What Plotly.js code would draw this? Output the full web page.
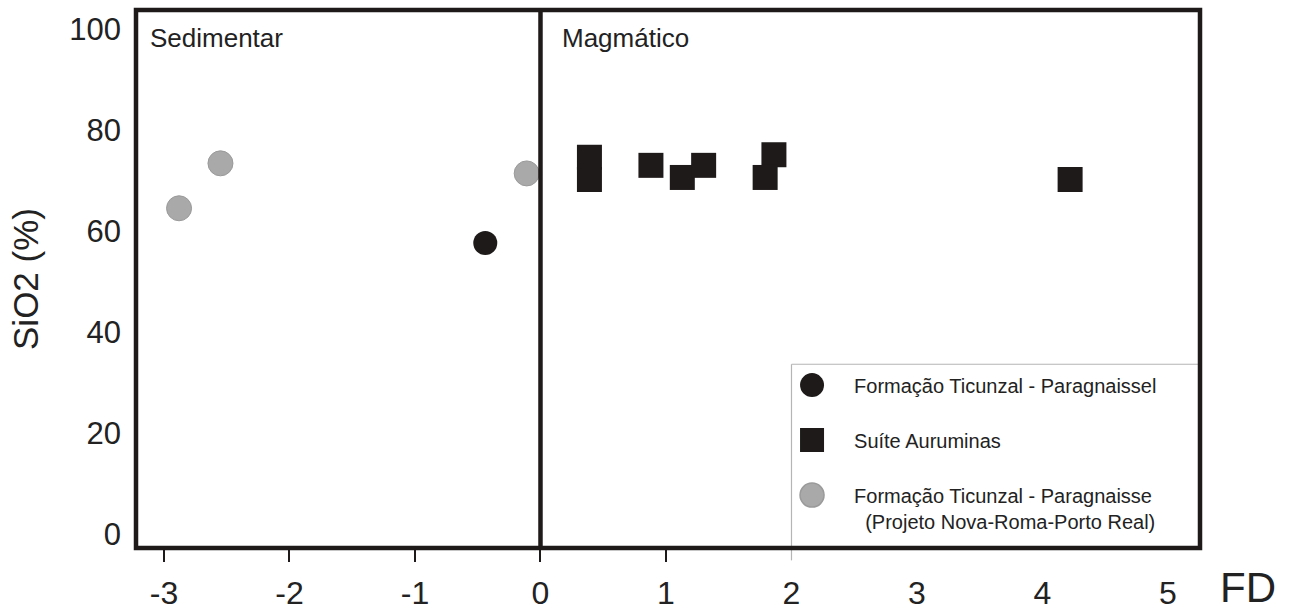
<!DOCTYPE html>
<html>
<head>
<meta charset="utf-8">
<script src="https://cdn.plot.ly/plotly-3.0.1.min.js"></script>
<style>
  html, body { margin: 0; padding: 0; background: #fff; }
  #chart { width: 1290px; height: 612px; }
</style>
</head>
<body>
<div id="chart"></div>
<script>
// FD discriminant values (x) and SiO2 contents (y, %)
const paragnaisselFD   = [-0.44];
const paragnaisselSiO2 = [57.7];

const auruminasFD   = [0.39, 0.39, 0.88, 1.13, 1.30, 1.86, 1.79, 4.22];
const auruminasSiO2 = [74.7, 70.3, 73.1, 70.7, 73.1, 75.2, 70.7, 70.3];

const nrprFD   = [-2.55, -2.88, -0.11];
const nrprSiO2 = [73.5, 64.6, 71.5];

const seriesNames = [
  'Formação Ticunzal - Paragnaissel',
  'Suíte Auruminas',
  'Formação Ticunzal - Paragnaisse<br>&nbsp;&nbsp;(Projeto Nova-Roma-Porto Real)'
];

const xTicks = [-3, -2, -1, 0, 1, 2, 3, 4, 5];
const xTickMarks = [-3, -2, -1, 0, 1];
const yTicks = [0, 20, 40, 60, 80, 100];
const fieldLabels = ['Sedimentar', 'Magmático'];

const FONT = 'Liberation Sans, Arial, sans-serif';
const INK = '#1e1a1a';

// x2 shares the exact range of x; it only carries the short tick marks
const traces = [
  {
    x: paragnaisselFD, y: paragnaisselSiO2, name: seriesNames[0],
    type: 'scatter', mode: 'markers', legendgroup: 'a', xaxis: 'x2', yaxis: 'y',
    marker: { symbol: 'circle', size: 24, color: INK, line: { width: 0 } }
  },
  {
    x: auruminasFD, y: auruminasSiO2, name: seriesNames[1],
    type: 'scatter', mode: 'markers', legendgroup: 'b',
    marker: { symbol: 'square', size: 25, color: INK, line: { width: 0 } }
  },
  {
    x: nrprFD, y: nrprSiO2, name: seriesNames[2],
    type: 'scatter', mode: 'markers', legendgroup: 'c',
    marker: { symbol: 'circle', size: 25, color: '#a9a9a9', line: { width: 1, color: '#9a9a9a' } }
  }
];

const xRange = [-3.223, 5.255];
const yRange = [-2.673, 103.86];

const layout = {
  width: 1290, height: 612,
  margin: { l: 136, r: 90, t: 10, b: 64 },
  paper_bgcolor: '#fff', plot_bgcolor: '#fff',
  font: { family: FONT, color: '#222' },
  showlegend: true,
  legend: {
    x: 0.5959, xanchor: 'left', y: 0.339, yanchor: 'top',
    bgcolor: 'rgba(0,0,0,0)', borderwidth: 0,
    font: { family: FONT, size: 20, color: '#222' },
    traceorder: 'grouped', tracegroupgap: 26,
    itemwidth: 74, valign: 'top', itemclick: false
  },
  xaxis: {
    range: xRange, tickmode: 'array', tickvals: xTicks,
    ticktext: xTicks.map(String),
    ticks: '', showgrid: false, zeroline: false, showline: false,
    ticklabelstandoff: 23,
    tickfont: { family: FONT, size: 32, color: '#222' }
  },
  xaxis2: {
    overlaying: 'x', anchor: 'y', side: 'bottom',
    range: xRange, tickmode: 'array', tickvals: xTickMarks,
    ticks: 'outside', ticklen: 13, tickwidth: 2, tickcolor: INK,
    showticklabels: false, showgrid: false, zeroline: false, showline: false
  },
  yaxis: {
    range: yRange, tickmode: 'array', tickvals: yTicks,
    ticks: '', showgrid: false, zeroline: false, showline: false,
    ticklabelstandoff: 14,
    tickfont: { family: FONT, size: 31, color: '#222' },
    title: { text: 'SiO2 (%)', standoff: 20, font: { family: FONT, size: 35, color: '#222' } }
  },
  shapes: [
    // legend panel edges
    { type: 'line', xref: 'x', yref: 'paper', x0: 2, x1: 2, y0: -0.023, y1: 0.3415,
      line: { color: '#b5b5b5', width: 1.2 }, layer: 'above' },
    { type: 'line', xref: 'x', yref: 'paper', x0: 2, x1: xRange[1], y0: 0.3415, y1: 0.3415,
      line: { color: '#b5b5b5', width: 1.2 }, layer: 'above' },
    // divider between the sedimentary and magmatic fields
    { type: 'line', xref: 'x', yref: 'paper', x0: 0, x1: 0, y0: 0, y1: 1,
      line: { color: INK, width: 4.5 }, layer: 'above' },
    // heavy frame
    { type: 'rect', xref: 'paper', yref: 'paper', x0: 0, x1: 1, y0: 0, y1: 1,
      line: { color: INK, width: 4.5 }, layer: 'above' }
  ],
  annotations: [
    { text: fieldLabels[0], xref: 'x', yref: 'y', x: -3.13, y: 98.3,
      xanchor: 'left', yanchor: 'middle', showarrow: false,
      font: { family: FONT, size: 26, color: '#222' } },
    { text: fieldLabels[1], xref: 'x', yref: 'y', x: 0.155, y: 98.3,
      xanchor: 'left', yanchor: 'middle', showarrow: false,
      font: { family: FONT, size: 26, color: '#222' } },
    { text: 'FD', xref: 'paper', yref: 'paper', x: 1.045, y: -0.0725,
      xanchor: 'center', yanchor: 'middle', showarrow: false,
      font: { family: FONT, size: 42, color: '#222' } }
  ]
};

Plotly.newPlot('chart', traces, layout, { staticPlot: true }).then(function (gd) {
  // enlarge the legend symbols to the size used in the plot
  gd.querySelectorAll('.legendpoints path.scatterpts').forEach(function (p) {
    const t = p.getAttribute('transform') || '';
    p.setAttribute('transform', t + ' scale(1.5)');
  });
});
</script>
</body>
</html>
